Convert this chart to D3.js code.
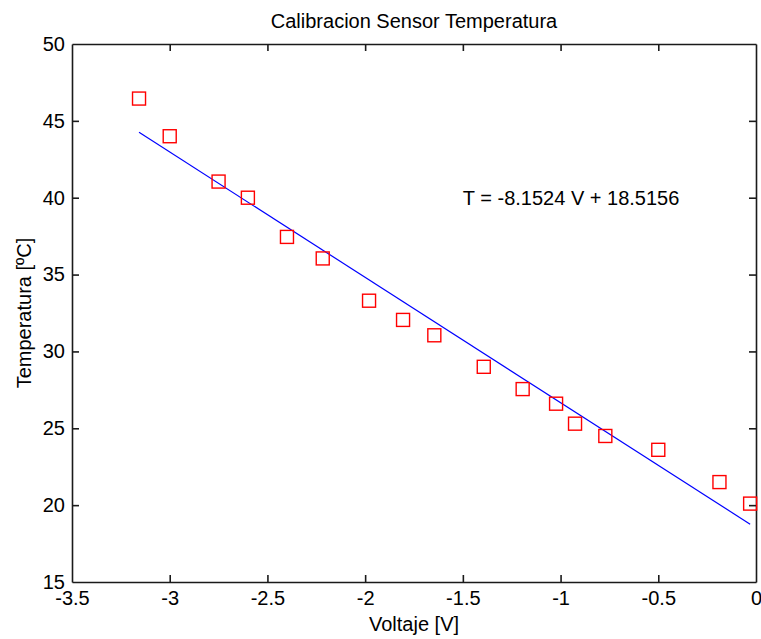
<!DOCTYPE html>
<html>
<head>
<meta charset="utf-8">
<script src="https://cdn.jsdelivr.net/npm/d3@7"></script>
<style>
  html, body { margin: 0; padding: 0; background: #fff; }
  svg { display: block; }
  text { font-family: "Liberation Sans", Arial, sans-serif; fill: #000; }
</style>
</head>
<body>
<svg id="chart" width="761" height="639"></svg>
<script>
// ---- Data ----
const voltage = [-3.157, -3.0, -2.75, -2.6, -2.4, -2.217, -1.98, -1.806, -1.646, -1.393, -1.194, -1.023, -0.926, -0.771, -0.5, -0.187, -0.03];
const temperature = [46.45, 44.0, 41.05, 40.0, 37.45, 36.05, 33.3, 32.05, 31.05, 29.0, 27.55, 26.6, 25.3, 24.5, 23.6, 21.5, 20.1];
const fitSlope = [-8.1524];
const fitIntercept = [18.5156];
const xTicks = [-3.5, -3, -2.5, -2, -1.5, -1, -0.5, 0];
const yTicks = [15, 20, 25, 30, 35, 40, 45, 50];
const titleText = "Calibracion Sensor Temperatura";
const xLabel = "Voltaje [V]";
const yLabel = "Temperatura [ºC]";
const annotation = { x: -1.5, y: 40, text: "T = -8.1524 V + 18.5156" };

// ---- Layout ----
const L = 72, R = 756, T = 44, B = 582;
const svg = d3.select("#chart");
const x = d3.scaleLinear().domain([-3.5, 0]).range([L, R]);
const y = d3.scaleLinear().domain([15, 50]).range([B, T]);
const fs = 20;
const tickLen = 7;

const axisColor = "#1a1a1a";
function styleAxis(g) {
  g.select(".domain").attr("stroke", axisColor).attr("stroke-width", 1.6);
  g.selectAll(".tick line").attr("stroke", axisColor).attr("stroke-width", 1.6);
  g.selectAll(".tick text").attr("font-size", fs).attr("font-family", "'Liberation Sans', Arial, sans-serif").attr("fill", "#000");
}
const fmt = d => String(d);

const gx = svg.append("g").attr("transform", `translate(0,${B})`)
  .call(d3.axisBottom(x).tickValues(xTicks).tickFormat(fmt).tickSizeInner(-tickLen).tickSizeOuter(0));
styleAxis(gx);
gx.selectAll(".tick text").attr("dy", "0.71em").attr("y", 9);

const gxTop = svg.append("g").attr("transform", `translate(0,${T})`)
  .call(d3.axisTop(x).tickValues(xTicks).tickFormat("").tickSizeInner(-tickLen).tickSizeOuter(0));
styleAxis(gxTop);

const gy = svg.append("g").attr("transform", `translate(${L},0)`)
  .call(d3.axisLeft(y).tickValues(yTicks).tickFormat(fmt).tickSizeInner(-tickLen).tickSizeOuter(0));
styleAxis(gy);
gy.selectAll(".tick text").attr("x", -7);

const gyR = svg.append("g").attr("transform", `translate(${R},0)`)
  .call(d3.axisRight(y).tickValues(yTicks).tickFormat("").tickSizeInner(-tickLen).tickSizeOuter(0));
styleAxis(gyR);

[gx, gxTop].forEach(g => g.selectAll(".tick").filter(d => d === -3.5 || d === 0).select("line").remove());
[gy, gyR].forEach(g => g.selectAll(".tick").filter(d => d === 15 || d === 50).select("line").remove());

// fit line
const xMin = d3.min(voltage), xMax = d3.max(voltage);
const fitPts = [xMin, xMax].map(v => [v, fitSlope[0] * v + fitIntercept[0]]);
svg.append("path")
  .datum(fitPts)
  .attr("d", d3.line().x(d => x(d[0])).y(d => y(d[1])))
  .attr("fill", "none")
  .attr("stroke", "#0000ff")
  .attr("stroke-width", 1.2);

// markers
const ms = 13;
svg.append("g").selectAll("rect")
  .data(voltage.map((v, i) => [v, temperature[i]]))
  .join("rect")
  .attr("x", d => x(d[0]) - ms / 2)
  .attr("y", d => y(d[1]) - ms / 2)
  .attr("width", ms)
  .attr("height", ms)
  .attr("fill", "none")
  .attr("stroke", "#ff0000")
  .attr("stroke-width", 1.4);

// annotation
svg.append("text")
  .attr("x", x(annotation.x))
  .attr("y", y(annotation.y))
  .attr("dy", "0.35em")
  .attr("font-size", fs)
  .text(annotation.text);

// title
svg.append("text")
  .attr("x", (L + R) / 2)
  .attr("y", 28)
  .attr("text-anchor", "middle")
  .attr("font-size", fs)
  .text(titleText);

// x label
svg.append("text")
  .attr("x", (L + R) / 2)
  .attr("y", 631)
  .attr("text-anchor", "middle")
  .attr("font-size", fs)
  .text(xLabel);

// y label
svg.append("text")
  .attr("transform", `translate(31,${(T + B) / 2}) rotate(-90)`)
  .attr("text-anchor", "middle")
  .attr("font-size", fs)
  .text(yLabel);
</script>
</body>
</html>
